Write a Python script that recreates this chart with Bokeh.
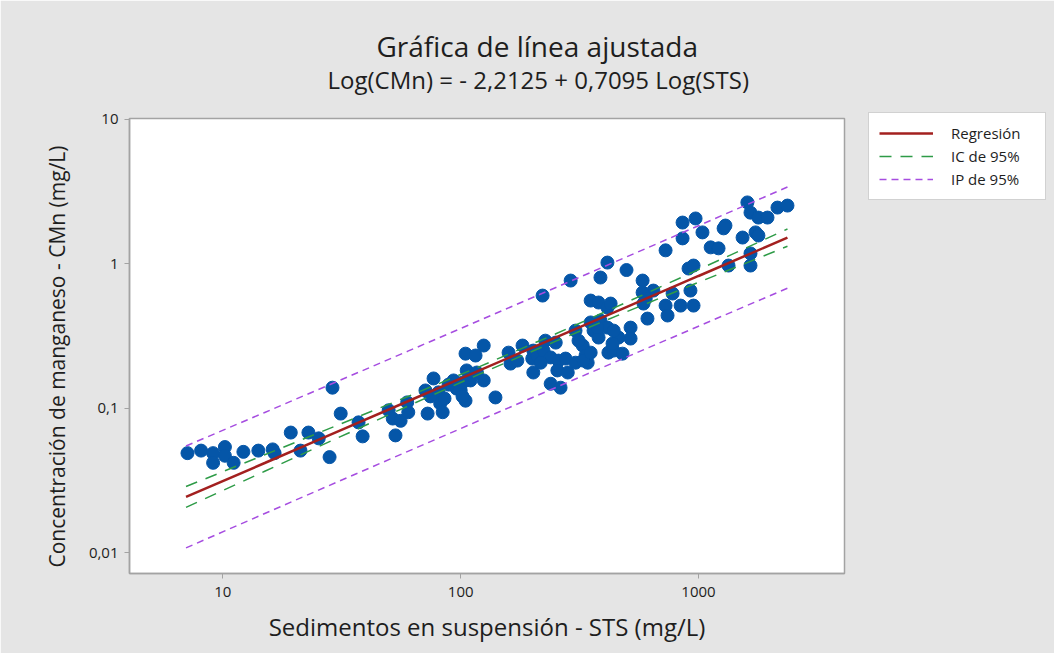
from bokeh.plotting import figure
from bokeh.models import Range1d, FixedTicker, Legend, LegendItem, Title
from bokeh.embed import file_html
from bokeh.resources import INLINE

# ---- data ----
sts = [7.1, 8.1, 9.1, 9.1, 10.2, 10.2, 11.1, 12.2, 14.1, 16.2, 16.5, 19.3, 21.2, 22.9, 25.3, 28.1, 28.9, 31.3, 37.2, 38.7,
       49.8, 53.2, 51.8, 55.9, 59.6, 60.2, 72.6, 71.1, 76.9, 80.7, 82, 84, 93.4, 100, 104.8, 104.8, 115.5, 106, 117, 125,
       110, 96.1, 101.8, 85.5, 89, 74.6,
       159, 162, 182, 202, 200, 210, 227, 223, 239, 251, 258, 255, 276, 304, 326, 304, 335, 352, 362, 387,
       380, 414, 418, 342, 239, 263, 202, 140, 125, 221, 290, 387, 414, 352, 380, 414, 282, 217, 173, 313,
       498, 582, 646, 610, 518, 518, 439, 479, 461, 102,
       857, 972, 1039, 857, 727, 1125, 908, 953, 582, 600, 587, 778, 925, 727, 841, 953, 741, 435, 427,
       1605, 1654, 1786, 1950, 2148, 2366, 1275, 1298, 1532, 1737, 1786, 1214, 1337, 1654, 1654, 328, 440, 376, 352]
cmn = [0.049, 0.051, 0.049, 0.042, 0.054, 0.047, 0.042, 0.050, 0.051, 0.052, 0.049, 0.068, 0.051, 0.068, 0.062, 0.046, 0.139, 0.092, 0.080, 0.064,
       0.097, 0.065, 0.085, 0.082, 0.110, 0.094, 0.092, 0.133, 0.161, 0.129, 0.108, 0.094, 0.156, 0.133, 0.113, 0.239, 0.232, 0.183, 0.177, 0.272,
       0.156, 0.137, 0.121, 0.117, 0.146, 0.121,
       0.243, 0.204, 0.272, 0.251, 0.221, 0.232, 0.294, 0.251, 0.225, 0.285, 0.214, 0.183, 0.221, 0.345, 0.272, 0.207, 0.232, 0.393, 0.345, 0.405,
       0.309, 0.362, 0.243, 0.207, 0.148, 0.139, 0.177, 0.119, 0.156, 0.603, 0.766, 0.804, 1.02, 0.557, 0.540, 0.498, 0.177, 0.207, 0.214, 0.294,
       0.906, 0.766, 0.653, 0.418, 0.362, 0.304, 0.251, 0.239, 0.309, 0.151,
       1.93, 2.06, 1.65, 1.50, 1.24, 1.30, 0.928, 0.973, 0.633, 0.575, 0.531, 0.623, 0.653, 0.514, 0.514, 0.514, 0.439, 0.281, 0.531,
       2.66, 2.26, 2.09, 2.09, 2.45, 2.53, 1.76, 1.84, 1.52, 1.65, 1.57, 1.28, 0.973, 1.18, 0.973, 0.214, 0.345, 0.362, 0.243]

fit_x = [7, 15, 30, 60, 120, 250, 500, 1000, 2366]
fit_y = [0.02438, 0.04186, 0.06846, 0.1120, 0.1831, 0.3083, 0.5040, 0.8241, 1.518]
ci_lo = [0.02066, 0.03670, 0.06182, 0.1037, 0.1726, 0.2906, 0.4672, 0.7449, 1.323]
ci_hi = [0.02877, 0.04776, 0.07583, 0.1209, 0.1943, 0.3268, 0.5435, 0.9119, 1.743]
pi_lo = [0.01083, 0.01872, 0.03074, 0.05041, 0.08254, 0.1390, 0.2269, 0.3700, 0.6780]
pi_hi = [0.05491, 0.09368, 0.1526, 0.2487, 0.4062, 0.6836, 1.1195, 1.836, 3.401]

x_ticks = [10, 100, 1000]
x_tick_labels = ["10", "100", "1000"]
y_ticks = [0.01, 0.1, 1, 10]
y_tick_labels = ["0,01", "0,1", "1", "10"]

title = "Gráfica de línea ajustada"
subtitle = "Log(CMn) = - 2,2125 + 0,7095 Log(STS)"
x_label = "Sedimentos en suspensión - STS (mg/L)"
y_label = "Concentración de manganeso - CMn (mg/L)"
legend_labels = ["Regresión", "IC de 95%", "IP de 95%"]

FONT = "Open Sans"
TXT = "#1E1E1E"
GRAY = "#A3A3A3"

p = figure(x_axis_type="log", y_axis_type="log",
           x_range=Range1d(4.05, 4110), y_range=Range1d(0.0072, 10.13),
           frame_width=715, frame_height=455,
           min_border_left=129, min_border_right=210, min_border_top=118, min_border_bottom=80,
           output_backend="svg", toolbar_location=None,
           background_fill_color="white", border_fill_color="#E5E5E5")
p.grid.visible = False
p.outline_line_color = GRAY
p.outline_line_width = 1.5

p.xaxis.ticker = FixedTicker(ticks=x_ticks, minor_ticks=[])
p.yaxis.ticker = FixedTicker(ticks=y_ticks, minor_ticks=[])
p.xaxis.major_label_overrides = dict(zip(x_ticks, x_tick_labels))
p.yaxis.major_label_overrides = dict(zip(y_ticks, y_tick_labels))
for ax in (p.xaxis, p.yaxis):
    ax.axis_line_color = GRAY
    ax.axis_line_width = 1.5
    ax.major_tick_line_color = GRAY
    ax.major_tick_out = 5
    ax.major_tick_in = 0
    ax.minor_tick_line_color = None
    ax.major_label_text_font = FONT
    ax.major_label_text_font_size = "15px"
    ax.major_label_text_color = TXT
    ax.axis_label_text_font = FONT
    ax.axis_label_text_font_style = "normal"
    ax.axis_label_text_color = TXT
p.xaxis.axis_label = x_label
p.xaxis.axis_label_text_font_size = "24px"
p.xaxis.major_label_standoff = 8
p.yaxis.major_label_standoff = 6
p.xaxis.axis_label_standoff = 10

p.scatter(sts, cmn, size=13, fill_color="#0556A8", line_color="#0556A8")

r_fit = p.line(fit_x, fit_y, line_color="#A3201F", line_width=2.5)
r_ci1 = p.line(fit_x, ci_lo, line_color="#2E9B47", line_width=1.5, line_dash="12 9")
r_ci2 = p.line(fit_x, ci_hi, line_color="#2E9B47", line_width=1.5, line_dash="12 9")
r_pi1 = p.line(fit_x, pi_lo, line_color="#A64DE0", line_width=1.5, line_dash="7 5")
r_pi2 = p.line(fit_x, pi_hi, line_color="#A64DE0", line_width=1.5, line_dash="7 5")

legend = Legend(items=[LegendItem(label=legend_labels[0], renderers=[r_fit]),
                       LegendItem(label=legend_labels[1], renderers=[r_ci1]),
                       LegendItem(label=legend_labels[2], renderers=[r_pi1])],
                location=(24, 373), margin=0, padding=10, spacing=3,
                glyph_width=54, glyph_height=18, label_height=18, label_standoff=18, label_width=84,
                label_text_font=FONT, label_text_font_size="15px", label_text_color=TXT,
                border_line_color=GRAY, border_line_width=1.5, background_fill_color="white",
                background_fill_alpha=1.0)
p.add_layout(legend, "right")

# y-axis title (a left title, so that it can be placed along the axis)
p.add_layout(Title(text=y_label, align="left", offset=6, standoff=30,
                   text_font=FONT, text_font_size="21px", text_font_style="normal",
                   text_color=TXT), "left")

# subtitle first (closest to the frame), then the main title above it
p.add_layout(Title(text=subtitle, align="left", offset=198, standoff=45,
                   text_font=FONT, text_font_size="24px", text_font_style="normal",
                   text_color=TXT), "above")
p.add_layout(Title(text=title, align="left", offset=247, standoff=-52,
                   text_font=FONT, text_font_size="28px", text_font_style="normal",
                   text_color=TXT), "above")

open("out.html", "w").write(file_html(p, INLINE))
